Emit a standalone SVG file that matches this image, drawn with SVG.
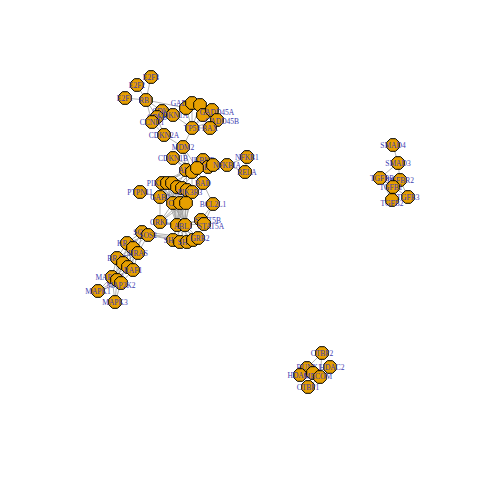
<svg xmlns="http://www.w3.org/2000/svg" xmlns:xlink="http://www.w3.org/1999/xlink" width="480" height="480" viewBox="0 0 480 480">
<defs>
<polygon id="oct" points="6.3,2.6 2.6,6.3 -2.6,6.3 -6.3,2.6 -6.3,-2.6 -2.6,-6.3 2.6,-6.3 6.3,-2.6" fill="#E69F00" stroke="#000" stroke-width="1"/>
</defs>
<style>
.e{stroke:#a0a0a0;stroke-width:0.8;fill:none}
text{font-family:"Liberation Serif",serif;font-size:7.5px;fill:#3c3cb0;text-anchor:middle}
</style>
<rect width="480" height="480" fill="#fff"/>
<g id="edges" class="e">
<path d="M151,77L146,100M137,85L146,100M125,98L146,100M146,100L162,111M146,100L157,117M146,100L152,122M162,111L152,122M157,117L162,111M162,111L173,115M157,117L173,115M152,122L164,135M157,117L164,135M173,115L192,128M146,100L186,108M173,115L186,108M186,108L192,128M192,103L192,128M200,105L192,128M203,115L192,128M212,110L192,128M217,120L192,128M210,128L192,128M192,103L203,115M200,105L212,110M192,128L183,147M164,135L183,147"/>
<path d="M183,147L186,170M183,147L192,172M183,147L197,168M173,158L186,170M173,158L192,172M173,158L197,168M203,160L197,168M203,160L208,167M203,160L227,165M208,167L227,165M213,165L227,165M227,165L247,157M227,165L245,172M247,157L245,172M197,168L213,165M192,172L208,167M186,170L203,183M192,172L203,183M197,168L203,183M203,183L213,204M213,204L201,220M213,204L204,224"/>
<path d="M162,183L186,170M167,183L186,170M172,183L192,172M177,187L192,172M182,188L197,168M187,190L186,170M192,192L192,172M162,183L197,168M177,187L186,170M140,192L160,197M160,197L162,183M160,197L167,183M160,197L172,183M160,197L177,187M160,197L182,188M160,197L187,190M160,197L192,192M160,197L173,203M160,197L160,222M173,203L160,222M180,203L160,222M186,203L160,222M162,183L177,225M172,183L185,225M177,187L177,225M182,188L185,225M187,190L177,225M192,192L185,225M173,203L177,225M180,203L185,225M186,203L177,225M173,203L185,225M186,203L185,225M160,222L177,225M160,222L185,225M177,225L185,225M185,225L201,220M185,225L204,224M177,225L201,220M177,225L173,240M177,225L180,242M177,225L187,242M177,225L193,240M177,225L198,238M185,225L173,240M185,225L180,242M185,225L187,242M185,225L193,240M185,225L198,238M173,240L198,238M180,242L198,238M187,242L198,238M193,240L198,238M192,192L185,225M162,183L185,225M167,183L177,225M167,183L185,225M182,188L177,225M187,190L185,225M177,187L185,225M180,203L177,225M172,183L177,225"/>
<path d="M198,238L142,232M198,238L148,235M173,240L142,232M173,240L148,235M142,232L127,243M142,232L133,248M142,232L138,253M148,235L127,243M148,235L133,248M148,235L138,253M127,243L117,258M127,243L123,263M127,243L128,267M127,243L133,270M133,248L117,258M133,248L123,263M133,248L128,267M133,248L133,270M138,253L117,258M138,253L123,263M138,253L128,267M138,253L133,270M117,258L112,277M117,258L117,280M123,263L112,277M123,263L117,280M128,267L112,277M128,267L117,280M133,270L112,277M133,270L121,283M117,258L121,283M112,277L98,291M112,277L115,302M117,280L98,291M117,280L115,302M121,283L98,291M121,283L115,302"/>
<path d="M393,145L398,163M398,163L380,178M398,163L400,180M380,178L393,187M380,178L408,197M380,178L392,200M400,180L393,187M400,180L408,197M400,180L392,200M380,178L400,180"/>
<path d="M322,353L307,368M322,353L320,377M330,367L320,377M330,367L313,373M300,375L313,373M300,375L320,377M308,387L320,377M308,387L313,373M307,368L313,373M307,368L320,377"/>
</g>
<g id="n_E2F3"><use href="#oct" x="151" y="77"/><text x="151" y="79.5">E2F3</text></g>
<g id="n_E2F2"><use href="#oct" x="137" y="85"/><text x="137" y="87.5">E2F2</text></g>
<g id="n_E2F1"><use href="#oct" x="125" y="98"/><text x="125" y="100.5">E2F1</text></g>
<g id="n_RB1"><use href="#oct" x="146" y="100"/><text x="146" y="102.5">RB1</text></g>
<g id="n_CDK4"><use href="#oct" x="162" y="111"/><text x="162" y="113.5">CDK4</text></g>
<g id="n_CDK6"><use href="#oct" x="157" y="117"/><text x="157" y="119.5">CDK6</text></g>
<g id="n_CCND1"><use href="#oct" x="152" y="122"/><text x="152" y="124.5">CCND1</text></g>
<g id="n_CDKN1A"><use href="#oct" x="173" y="115"/><text x="173" y="117.5">CDKN1A</text></g>
<g id="n_CDKN2A"><use href="#oct" x="164" y="135"/><text x="164" y="137.5">CDKN2A</text></g>
<g id="n_GADD45G"><use href="#oct" x="186" y="108"/><text x="188" y="106">GADD45G</text></g>
<g id="n_a1"><use href="#oct" x="192" y="103"/></g>
<g id="n_a2"><use href="#oct" x="200" y="105"/></g>
<g id="n_a3"><use href="#oct" x="203" y="115"/></g>
<g id="n_GADD45A"><use href="#oct" x="212" y="110"/><text x="217" y="115">GADD45A</text></g>
<g id="n_GADD45B"><use href="#oct" x="217" y="120"/><text x="222" y="124">GADD45B</text></g>
<g id="n_BAX"><use href="#oct" x="210" y="128"/><text x="210" y="130.5">BAX</text></g>
<g id="n_TP53"><use href="#oct" x="192" y="128"/><text x="192" y="130.5">TP53</text></g>
<g id="n_MDM2"><use href="#oct" x="183" y="147"/><text x="183" y="149.5">MDM2</text></g>
<g id="n_CDKN1B"><use href="#oct" x="173" y="158"/><text x="173" y="160.5">CDKN1B</text></g>
<g id="n_IKBKB"><use href="#oct" x="203" y="160"/><text x="203" y="162.5">IKBKB</text></g>
<g id="n_IKBKG"><use href="#oct" x="208" y="167"/><text x="208" y="169.5">IKBKG</text></g>
<g id="n_CHUK"><use href="#oct" x="213" y="165"/></g>
<g id="n_NFKBIA"><use href="#oct" x="227" y="165"/><text x="227" y="167.5">NFKBIA</text></g>
<g id="n_NFKB1"><use href="#oct" x="247" y="157"/><text x="247" y="159.5">NFKB1</text></g>
<g id="n_RELA"><use href="#oct" x="245" y="172"/><text x="247" y="175">RELA</text></g>
<g id="n_AKT1"><use href="#oct" x="186" y="170"/><text x="188" y="173">AKT3</text></g>
<g id="n_AKT2"><use href="#oct" x="192" y="172"/></g>
<g id="n_AKT3"><use href="#oct" x="197" y="168"/></g>
<g id="n_BAD"><use href="#oct" x="203" y="183"/><text x="203" y="185.5">BAD</text></g>
<g id="n_PIK3CA"><use href="#oct" x="162" y="183"/><text x="160" y="185.5">PIK3CA</text></g>
<g id="n_PIK3CB"><use href="#oct" x="167" y="183"/></g>
<g id="n_PIK3CD"><use href="#oct" x="172" y="183"/></g>
<g id="n_PIK3R1"><use href="#oct" x="177" y="187"/></g>
<g id="n_PIK3R2"><use href="#oct" x="182" y="188"/></g>
<g id="n_PIK3R3"><use href="#oct" x="187" y="190"/></g>
<g id="n_PIK3R5"><use href="#oct" x="192" y="192"/><text x="190" y="194.5">PIK3R3</text></g>
<g id="n_PTPN11"><use href="#oct" x="140" y="192"/><text x="140" y="194.5">PTPN11</text></g>
<g id="n_GAB2"><use href="#oct" x="160" y="197"/><text x="160" y="199.5">GAB2</text></g>
<g id="n_CBL"><use href="#oct" x="173" y="203"/><text x="178" y="205.5">CBLB</text></g>
<g id="n_CBLB"><use href="#oct" x="180" y="203"/></g>
<g id="n_CBLC"><use href="#oct" x="186" y="203"/></g>
<g id="n_BCL2L1"><use href="#oct" x="213" y="204"/><text x="213" y="206.5">BCL2L1</text></g>
<g id="n_CRKL"><use href="#oct" x="160" y="222"/><text x="160" y="224.5">CRKL</text></g>
<g id="n_BCR"><use href="#oct" x="177" y="225"/></g>
<g id="n_ABL1"><use href="#oct" x="185" y="225"/><text x="183" y="229">ABL1</text></g>
<g id="n_STAT5B"><use href="#oct" x="201" y="220"/><text x="208" y="223">STAT5B</text></g>
<g id="n_STAT5A"><use href="#oct" x="204" y="224"/><text x="211" y="229">STAT5A</text></g>
<g id="n_SHC1"><use href="#oct" x="173" y="240"/><text x="173" y="243">SHC1</text></g>
<g id="n_SHC2"><use href="#oct" x="180" y="242"/></g>
<g id="n_SHC3"><use href="#oct" x="187" y="242"/><text x="187" y="245">SHC3</text></g>
<g id="n_SHC4"><use href="#oct" x="193" y="240"/></g>
<g id="n_GRB2"><use href="#oct" x="198" y="238"/><text x="200" y="241">GRB2</text></g>
<g id="n_SOS1"><use href="#oct" x="142" y="232"/><text x="142" y="234.5">SOS1</text></g>
<g id="n_SOS2"><use href="#oct" x="148" y="235"/><text x="148" y="237.5">SOS2</text></g>
<g id="n_KRAS"><use href="#oct" x="127" y="243"/><text x="127" y="245.5">KRAS</text></g>
<g id="n_NRAS"><use href="#oct" x="133" y="248"/></g>
<g id="n_HRAS"><use href="#oct" x="138" y="253"/><text x="138" y="255.5">HRAS</text></g>
<g id="n_BRAF"><use href="#oct" x="117" y="258"/><text x="117" y="260.5">BRAF</text></g>
<g id="n_ARAF"><use href="#oct" x="123" y="263"/></g>
<g id="n_RAF1"><use href="#oct" x="128" y="267"/></g>
<g id="n_CHK"><use href="#oct" x="133" y="270"/><text x="133" y="272.5">RAF1</text></g>
<g id="n_MAP2K1"><use href="#oct" x="112" y="277"/><text x="110" y="279.5">MAP2K1</text></g>
<g id="n_MAP2K2"><use href="#oct" x="117" y="280"/></g>
<g id="n_MAP2K3"><use href="#oct" x="121" y="283"/><text x="121" y="288">MAP2K2</text></g>
<g id="n_MAPK1"><use href="#oct" x="98" y="291"/><text x="98" y="293.5">MAPK1</text></g>
<g id="n_MAPK3"><use href="#oct" x="115" y="302"/><text x="115" y="304.5">MAPK3</text></g>
<g id="n_SMAD4"><use href="#oct" x="393" y="145"/><text x="393" y="147.5">SMAD4</text></g>
<g id="n_SMAD3"><use href="#oct" x="398" y="163"/><text x="398" y="165.5">SMAD3</text></g>
<g id="n_TGFBR1"><use href="#oct" x="380" y="178"/><text x="384" y="181">TGFBR1</text></g>
<g id="n_TGFBR2"><use href="#oct" x="400" y="180"/><text x="400" y="182.5">TGFBR2</text></g>
<g id="n_TGFB1"><use href="#oct" x="393" y="187"/><text x="391" y="189.5">TGFB1</text></g>
<g id="n_TGFB3"><use href="#oct" x="408" y="197"/><text x="408" y="199.5">TGFB3</text></g>
<g id="n_TGFB2"><use href="#oct" x="392" y="200"/><text x="392" y="206">TGFB2</text></g>
<g id="n_CTBP2"><use href="#oct" x="322" y="353"/><text x="322" y="355.5">CTBP2</text></g>
<g id="n_RUNX1"><use href="#oct" x="307" y="368"/><text x="309" y="370">RUNX1</text></g>
<g id="n_HDAC2"><use href="#oct" x="330" y="367"/><text x="332" y="369.5">HDAC2</text></g>
<g id="n_HDAC1"><use href="#oct" x="300" y="375"/><text x="300" y="377.5">HDAC1</text></g>
<g id="n_x"><use href="#oct" x="313" y="373"/></g>
<g id="n_MECOM"><use href="#oct" x="320" y="377"/><text x="318" y="378.5">MECOM</text></g>
<g id="n_CTBP1"><use href="#oct" x="308" y="387"/><text x="308" y="389.5">CTBP1</text></g>
</svg>
